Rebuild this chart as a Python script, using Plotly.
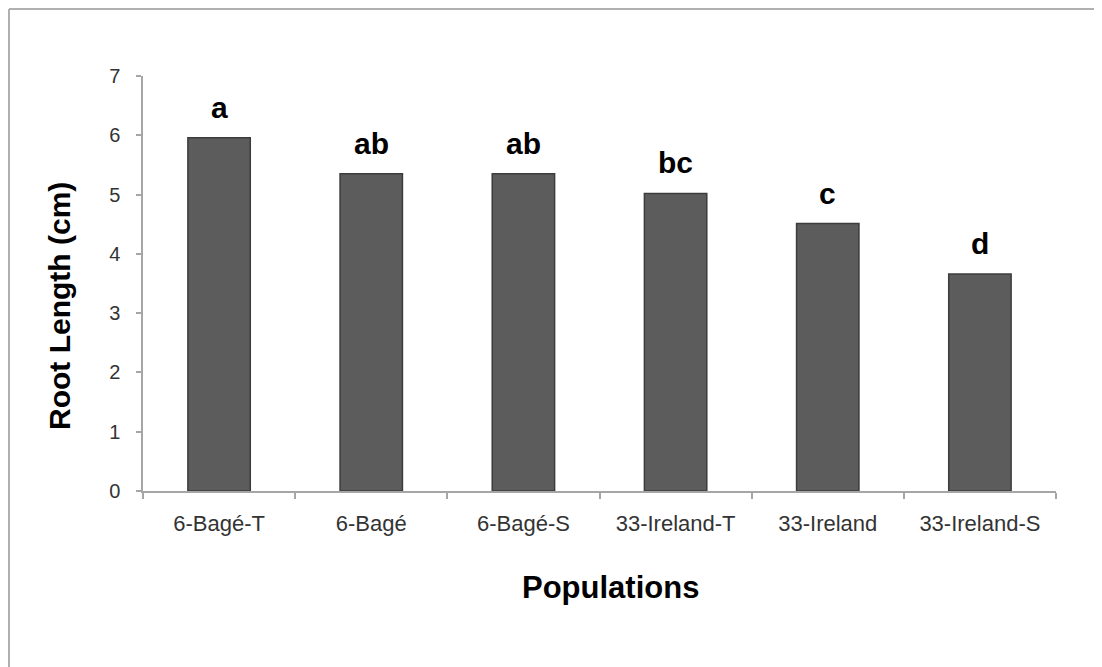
import plotly.graph_objects as go

categories = ["6-Bagé-T", "6-Bagé", "6-Bagé-S", "33-Ireland-T", "33-Ireland", "33-Ireland-S"]
root_length = [5.96, 5.35, 5.35, 5.02, 4.51, 3.66]
letters = ["a", "ab", "ab", "bc", "c", "d"]
y_ticks = [0, 1, 2, 3, 4, 5, 6, 7]

# page body has an 8px margin; figure sized to fit the window
OFF = 8
W, H = 1094, 659
ML, MR, MT, MB = 135, 46, 68, 176
PW, PH = W - ML - MR, H - MT - MB

def px_to_paper_x(sx):
    return (sx - OFF - ML) / PW

def px_to_paper_y(sy):
    return (H - MB - (sy - OFF)) / PH

FONT = "Liberation Sans, Arial, sans-serif"

fig = go.Figure()
fig.add_trace(go.Bar(
    x=categories,
    y=root_length,
    width=0.41,
    marker=dict(color="#5c5c5c", line=dict(color="#3c3c3c", width=1.5)),
    hoverinfo="x+y",
))

for cat, val, lab in zip(categories, root_length, letters):
    fig.add_annotation(
        x=cat, y=val, text=f"<b>{lab}</b>", showarrow=False,
        yanchor="bottom", yshift=12,
        font=dict(family=FONT, size=30, color="#000000"),
    )

# axis titles as annotations for precise placement
fig.add_annotation(
    xref="paper", yref="paper", x=px_to_paper_x(610), y=px_to_paper_y(587),
    text="<b>Populations</b>", showarrow=False, xanchor="center", yanchor="middle",
    font=dict(family=FONT, size=31, color="#000000"),
)
fig.add_annotation(
    xref="paper", yref="paper", x=px_to_paper_x(59), y=px_to_paper_y(306),
    text="<b>Root Length (cm)</b>", showarrow=False, textangle=-90,
    xanchor="center", yanchor="middle",
    font=dict(family=FONT, size=30, color="#000000"),
)

# outer frame (top and left edges visible)
frame_color = "#b0b0b0"
left_x = (1 - ML) / PW
top_y = (H - MB - 1) / PH
fig.add_shape(type="line", xref="paper", yref="paper",
              x0=left_x, x1=left_x, y0=top_y, y1=px_to_paper_y(720),
              line=dict(color=frame_color, width=2))
fig.add_shape(type="line", xref="paper", yref="paper",
              x0=left_x, x1=px_to_paper_x(1130), y0=top_y, y1=top_y,
              line=dict(color=frame_color, width=2))

fig.update_layout(
    width=W, height=H,
    margin=dict(l=ML, r=MR, t=MT, b=MB, autoexpand=False),
    paper_bgcolor="white", plot_bgcolor="white",
    showlegend=False,
    font=dict(family=FONT, color="#333333"),
)
fig.update_xaxes(
    type="category",
    showline=True, linecolor="#a6a6a6", linewidth=1.5,
    ticks="outside", tickson="boundaries", ticklen=6, tickcolor="#a6a6a6", tickwidth=1.5,
    tickfont=dict(size=22, color="#333333"),
    ticklabelstandoff=12,
    showgrid=False, zeroline=False,
)
fig.update_yaxes(
    range=[0, 7], tickvals=y_ticks,
    showline=True, linecolor="#a6a6a6", linewidth=1.5,
    ticks="outside", ticklen=5, tickcolor="#a6a6a6", tickwidth=1.5,
    tickfont=dict(size=20, color="#333333"),
    ticklabelstandoff=12,
    showgrid=False, zeroline=False,
)

fig.write_html("out.html")
